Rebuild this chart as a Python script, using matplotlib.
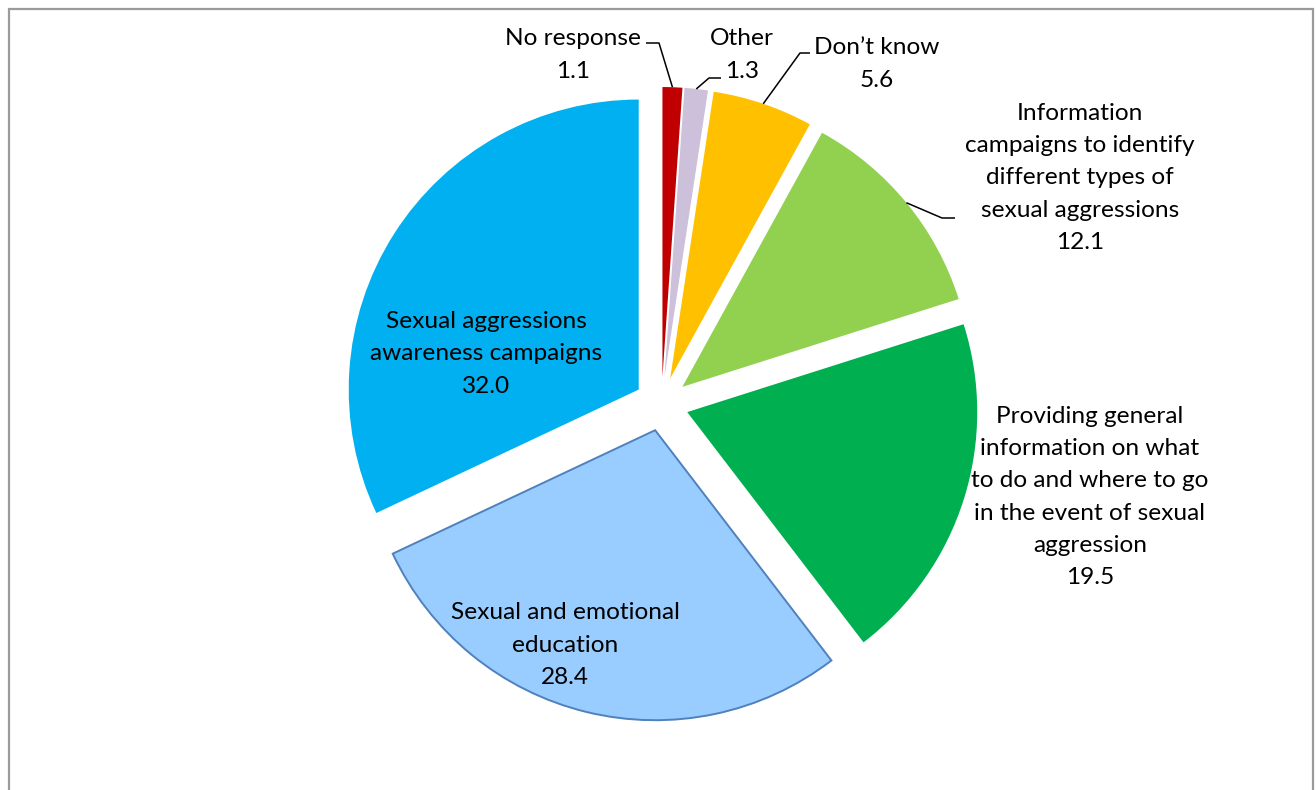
import numpy as np
import matplotlib
matplotlib.use("Agg")
import matplotlib.pyplot as plt
from matplotlib.patches import Rectangle

# Survey shares (%), clockwise from 12 o'clock
categories = [
    "No response",
    "Other",
    "Don\u2019t know",
    "Information campaigns to identify different types of sexual aggressions",
    "Providing general information on what to do and where to go in the event of sexual aggression",
    "Sexual and emotional education",
    "Sexual aggressions awareness campaigns",
]
values = [1.1, 1.3, 5.6, 12.1, 19.5, 28.4, 32.0]

# Wrapped label text as shown on the chart
label_lines = [
    ["No response"],
    ["Other"],
    ["Don\u2019t know"],
    ["Information", "campaigns to identify", "different types of", "sexual aggressions"],
    ["Providing general", "information on what", "to do and where to go",
     "in the event of sexual", "aggression"],
    ["Sexual and emotional", "education"],
    ["Sexual aggressions", "awareness campaigns"],
]

colors = ["#C00000", "#CCC0DA", "#FFC000", "#92D050", "#00B050", "#99CCFF", "#00B0F0"]

W, H, DPI = 1316, 790, 100
CX, CY, RPX = 661.5, 404.0, 290.0   # pie centre and radius in pixels
EXPLODE = 0.093

fig = plt.figure(figsize=(W / DPI, H / DPI), dpi=DPI)
ax = fig.add_axes([0, 0, 1, 1])


def px(x, y):
    """Pixel position (from top-left) to data coordinates."""
    return (x - CX) / RPX, (CY - y) / RPX


wedges, _ = ax.pie(values, colors=colors, startangle=90, counterclock=False,
                   explode=[EXPLODE] * len(values), radius=1.0,
                   wedgeprops=dict(linewidth=0))
wedges[5].set_edgecolor("#4F81BD")
wedges[5].set_linewidth(1.4)

ax.set_xlim(-CX / RPX, (W - CX) / RPX)
ax.set_ylim(-(H - CY) / RPX, CY / RPX)
ax.set_aspect("equal")
ax.axis("off")

FONT = "Lato"
FS = 17.6

# Label block centres (pixels) and optional leader elbow/end points
label_pos = [(573, 55), (742, 55), (877, 64), (1080, 178), (1090, 497), (565, 645), (486, 354)]
leaders = {
    0: [(659, 43), (646, 43)],
    1: [(709, 78), (721, 78)],
    2: [(800, 53), (810, 53)],
    3: [(942, 218), (955, 218)],
}

for i, (w, v) in enumerate(zip(wedges, values)):
    text = "\n".join(label_lines[i] + [f"{v:.1f}"])
    tx, ty = px(*label_pos[i])
    ax.text(tx, ty, text, ha="center", va="center", fontsize=FS,
            family=FONT, color="black", linespacing=1.66, multialignment="center")
    if i in leaders:
        mid = np.deg2rad((w.theta1 + w.theta2) / 2)
        ax0 = w.center[0] + w.r * np.cos(mid)
        ay0 = w.center[1] + w.r * np.sin(mid)
        pts = [(ax0, ay0)] + [px(*p) for p in leaders[i]]
        xs, ys = zip(*pts)
        ax.plot(xs, ys, color="black", lw=1.1, solid_capstyle="butt")

# Chart-area frame
fig.patches.append(Rectangle((9 / W, -0.05), (1313 - 9) / W, (H - 9) / H + 0.05,
                             transform=fig.transFigure, fill=False,
                             edgecolor="#9A9A9A", linewidth=1.6))

fig.savefig("out.png", dpi=DPI)
